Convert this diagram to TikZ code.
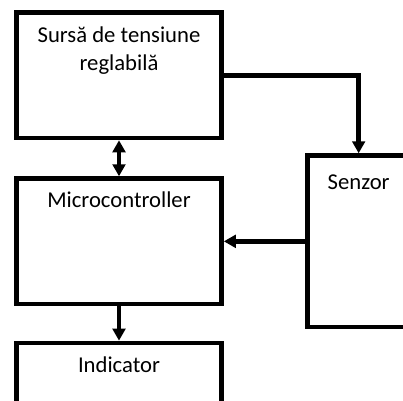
\documentclass[tikz,border=0pt]{standalone}
\usepackage{fontspec}
\setmainfont{Carlito}
\usepackage{tikz}
\usetikzlibrary{arrows.meta, positioning}

\begin{document}
\begin{tikzpicture}[
  node distance=27pt and 60.75pt,
  every node/.style={font=\fontsize{17}{21}\selectfont},
  block/.style={draw, line width=3.5pt, minimum width=153.75pt, minimum height=94.1pt},
  arrow/.style={-{Triangle[length=9pt, width=9.5pt]}, line width=3.5pt},
  twoway/.style={{Triangle[length=9pt, width=9.5pt]}-{Triangle[length=9pt, width=9.5pt]}, line width=3.5pt},
]

% Frame
\useasboundingbox (0,0) rectangle (302.25pt,-300pt);
\clip (0,0) rectangle (302.25pt,-300pt);

% Main blocks
\node[block, label={[anchor=base, yshift=-45.5pt, align=center]north:Sursă de tensiune\\reglabilă}] (sursa) at (89.25pt,-56.4pt) {};
\node[block, below=of sursa, label={[anchor=base, yshift=-23.5pt]north:Microcontroller}] (micro) {};
\node[block, below=25.7pt of micro, label={[anchor=base, yshift=-24.2pt]north:Indicator}] (indicator) {};

% Sensor
\node[block, right=of micro, minimum width=77.25pt, minimum height=128.6pt, label={[anchor=base, yshift=-27pt]north:Senzor}] (senzor) {};

% Arrows
\draw[twoway] (sursa) -- (micro);
\draw[arrow] (micro) -- (indicator);
\draw[arrow] (sursa.east) -| (senzor.north);
\draw[arrow] (senzor) -- (micro);

\end{tikzpicture}
\end{document}
